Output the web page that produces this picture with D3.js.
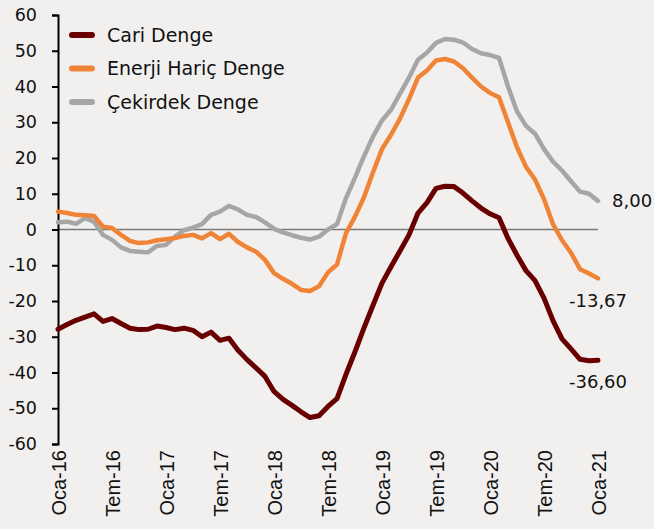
<!DOCTYPE html>
<html>
<head>
<meta charset="utf-8">
<script src="https://cdn.jsdelivr.net/npm/d3@7"></script>
<style>
  body { margin: 0; background: #f2f0ef; }
  svg { display: block; font-family: "DejaVu Sans", sans-serif; }
</style>
</head>
<body>
<script>
// aylik seriler, Oca-16 .. Oca-21 (61 ay)
const tickLabels = ["Oca-16", "Tem-16", "Oca-17", "Tem-17", "Oca-18", "Tem-18",
  "Oca-19", "Tem-19", "Oca-20", "Tem-20", "Oca-21"]
const seriesNames = ["Cari Denge", "Enerji Hariç Denge", "Çekirdek Denge"]

const cari = [-27.9, -26.6, -25.4, -24.5, -23.6, -25.7, -24.9, -26.3, -27.6, -28.0,
  -27.9, -27.0, -27.4, -28.0, -27.6, -28.2, -30.0, -28.7, -31.0, -30.4,
  -33.8, -36.4, -38.7, -41.1, -45.3, -47.5, -49.2, -51.0, -52.6, -52.1,
  -49.5, -47.3, -40.5, -34.2, -27.5, -21.2, -15.0, -10.4, -6.0, -1.5,
  4.6, 7.5, 11.5, 12.1, 12.0, 10.2, 8.0, 6.0, 4.4, 3.3,
  -2.5, -7.2, -11.5, -14.3, -19.2, -25.5, -30.6, -33.4, -36.3, -36.7, -36.60]

const enerji = [5.0, 4.6, 4.1, 4.0, 3.8, 0.8, 0.4, -1.5, -3.2, -3.8,
  -3.6, -3.0, -2.7, -2.4, -1.8, -1.5, -2.5, -1.0, -2.7, -1.2,
  -3.5, -5.0, -6.2, -8.5, -12.2, -13.8, -15.2, -16.9, -17.2, -15.9,
  -12.0, -9.8, -1.0, 3.6, 9.0, 16.0, 22.5, 26.5, 31.0, 36.5,
  42.5, 44.5, 47.3, 47.7, 47.0, 45.1, 42.5, 40.0, 38.2, 37.0,
  30.0, 23.0, 17.5, 14.0, 8.5, 1.5, -3.0, -6.5, -11.1, -12.3, -13.67]

const cekirdek = [2.0, 2.2, 1.6, 3.2, 2.2, -1.5, -2.9, -5.0, -6.0, -6.2,
  -6.4, -4.6, -4.3, -2.0, -0.2, 0.5, 1.5, 4.1, 5.0, 6.6,
  5.6, 4.1, 3.5, 2.0, 0.2, -0.8, -1.6, -2.3, -2.8, -2.0,
  0.0, 1.5, 8.8, 14.5, 20.5, 26.0, 30.5, 33.5, 38.0, 42.5,
  47.5, 49.5, 52.2, 53.3, 53.1, 52.3, 50.5, 49.3, 48.8, 48.0,
  40.0, 33.0, 29.0, 26.8, 22.5, 19.0, 16.5, 13.5, 10.6, 10.0, 8.00]

const width = 654
const height = 529
const colors = ["#680000", "#f08436", "#a6a6a6"]
const widths = [5, 4.5, 4.5]

const svg = d3.select("body")
    .append("svg")
    .attr("width", width)
    .attr("height", height)

const x = d3.scaleLinear().domain([0, 60]).range([58, 598])
const y = d3.scaleLinear().domain([-60, 60]).range([444, 15])

// sifir cizgisi
svg.append("line")
    .attr("x1", x(0)).attr("x2", x(60))
    .attr("y1", y(0)).attr("y2", y(0))
    .attr("stroke", "#7a7a7a")
    .attr("stroke-width", 1.5)

// y ekseni
const yAxis = svg.append("g")
    .attr("transform", `translate(${x(0)},0)`)
    .call(d3.axisLeft(y).tickValues(d3.range(-60, 61, 10))
        .tickFormat(d => String(d)).tickSize(6).tickPadding(15))
yAxis.select(".domain").attr("stroke", "#000").attr("stroke-width", 2)
yAxis.selectAll(".tick line").attr("stroke", "#000").attr("stroke-width", 2)
yAxis.selectAll("text").attr("font-size", 17.5).attr("fill", "#111")
    .attr("font-family", "DejaVu Sans")

// x ekseni
const xAxis = svg.append("g")
    .attr("transform", `translate(0,${y(-60)})`)
    .call(d3.axisBottom(x).tickValues(d3.range(0, 61, 6))
        .tickFormat((d, i) => tickLabels[i]).tickSize(0))
xAxis.select(".domain").remove()
xAxis.selectAll("text")
    .attr("font-size", 20).attr("fill", "#111")
    .attr("font-family", "Liberation Sans")
    .attr("text-anchor", "end")
    .attr("transform", "rotate(-90)")
    .attr("x", -6).attr("y", 0).attr("dy", "0.35em")

const line = d3.line()
    .x((d, i) => x(i))
    .y(d => y(d))

const all = [cekirdek, enerji, cari]
const order = [2, 1, 0]
all.forEach((s, k) => {
    const idx = order[k]
    svg.append("path")
        .datum(s)
        .attr("fill", "none")
        .attr("stroke", colors[idx])
        .attr("stroke-width", widths[idx])
        .attr("stroke-linejoin", "round")
        .attr("stroke-linecap", "round")
        .attr("d", line)
})

// son deger etiketleri
const fmt = v => v.toFixed(2).replace(".", ",")
const endLabels = [
    { v: cekirdek[60], x: x(60) + 14, y: y(cekirdek[60]) },
    { v: enerji[60], x: x(60) - 29, y: y(enerji[60]) + 22 },
    { v: cari[60], x: x(60) - 29, y: y(cari[60]) + 21 }
]
svg.selectAll(".endlbl")
    .data(endLabels)
    .enter().append("text")
    .attr("class", "endlbl")
    .attr("x", d => d.x)
    .attr("y", d => d.y)
    .attr("dy", "0.35em")
    .attr("font-size", 18)
    .attr("fill", "#111")
    .text(d => fmt(d.v))

// lejant
const legend = svg.append("g")
legend.selectAll("line")
    .data(seriesNames)
    .enter().append("line")
    .attr("x1", 72).attr("x2", 92)
    .attr("y1", (_, i) => 35 + i * 33.5)
    .attr("y2", (_, i) => 35 + i * 33.5)
    .attr("stroke", (_, i) => colors[i])
    .attr("stroke-width", 6)
    .attr("stroke-linecap", "round")
legend.selectAll("text")
    .data(seriesNames)
    .enter().append("text")
    .attr("x", 107)
    .attr("y", (_, i) => 35 + i * 33.5)
    .attr("dy", "0.35em")
    .attr("font-size", 19)
    .attr("fill", "#111")
    .text(d => d)
</script>
</body>
</html>
